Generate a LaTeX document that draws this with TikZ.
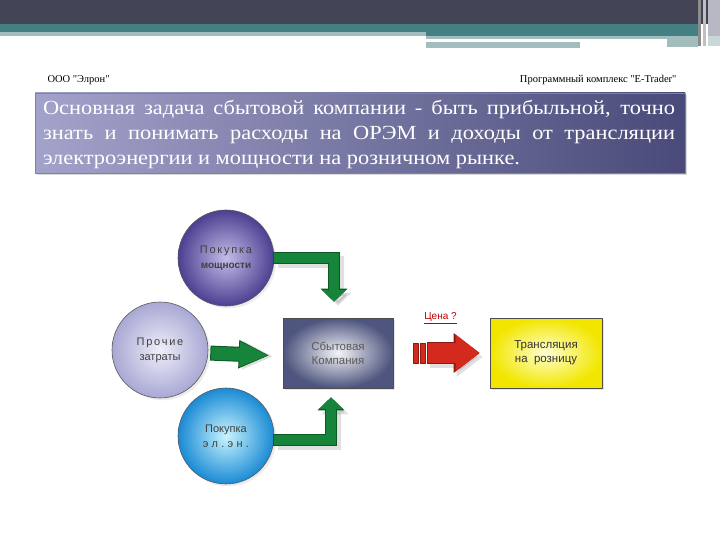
\documentclass[tikz,border=0pt]{standalone}
\usepackage{fontspec}
\setmainfont{Liberation Serif}
\newfontfamily\headfont[Ligatures=TeXOff]{Liberation Serif}
\newfontfamily\taskfont[FakeStretch=1.12]{Liberation Serif}
\newfontfamily\arialfont{Liberation Sans}
\newfontfamily\arialspaced[LetterSpace=16]{Liberation Sans}
\newfontfamily\arialwide[LetterSpace=30]{Liberation Sans}
\usetikzlibrary{arrows.meta,shadows,positioning,calc}
\definecolor{bardark}{HTML}{434356}
\definecolor{barteal}{HTML}{447F84}
\definecolor{barlight}{HTML}{A3BCBE}
\definecolor{bargray}{HTML}{B8B8C4}
\definecolor{taskleft}{HTML}{A2A2CA}
\definecolor{taskright}{HTML}{4A4A7A}
\definecolor{powin}{HTML}{C4BCE8}
\definecolor{powout}{HTML}{4D3F91}
\definecolor{othin}{HTML}{EEEEFA}
\definecolor{othout}{HTML}{A8A8D4}
\definecolor{elin}{HTML}{C8F4FF}
\definecolor{elout}{HTML}{1A8AD4}
\definecolor{boxin}{HTML}{F4F4F8}
\definecolor{boxout}{HTML}{4E557E}
\definecolor{yelin}{HTML}{FFFFD0}
\definecolor{yelout}{HTML}{F2E600}
\definecolor{grfill}{HTML}{16843A}
\definecolor{grdark}{HTML}{0B5A22}
\definecolor{redfill}{HTML}{D42A1E}
\definecolor{reddark}{HTML}{8A1A10}
\begin{document}
\begin{tikzpicture}[x=1pt,y=-1pt,line join=round,
	ball/.style={circle,minimum size=96pt,draw=black!65,line width=0.6pt,align=center,text=black!75,
		font=\arialfont\fontsize{11}{15}\selectfont,drop shadow={opacity=0.15}},
	panel/.style={rectangle,minimum width=110pt,minimum height=70pt,draw=black!70,line width=0.6pt,align=center,
		font=\arialfont\fontsize{11.5}{14}\selectfont,drop shadow={opacity=0.2}},
	gline/.style={line width=12pt,draw=grdark,line join=miter,-{Triangle[width=26pt,length=13pt]}},
	gfill/.style={line width=10pt,draw=grfill,line join=miter,-{Triangle[width=23pt,length=11.5pt]}},
	gshade/.style={line width=12pt,draw=black,opacity=0.12,line join=miter,-{Triangle[width=26pt,length=13pt]},
		transform canvas={shift={(4pt,-4pt)}}},
	rline/.style={line width=22pt,draw=reddark,-{Triangle[width=38pt,length=26pt]}},
	rfill/.style={line width=20pt,draw=redfill,-{Triangle[width=35pt,length=24pt]}}]
		\useasboundingbox (0,0) rectangle (720,540);
		\fill[bardark] (0,0) rectangle (720,24);
		\fill[barteal] (0,24) rectangle (698,32);
		\fill[barlight] (0,32) rectangle (426,36);
		\fill[barteal] (426,32) rectangle (698,36);
		\fill[barlight] (426,36) rectangle (698,39);
		\fill[barlight] (667,39) rectangle (698,47);
		\fill[barlight] (426,42) rectangle (580,48);
		\fill[black!45] (698,0) rectangle (701,46);
		\fill[black!25] (703,0) rectangle (706,46);
		\fill[bargray] (708,0) rectangle (720,36);
		\fill[barlight!60] (708,36) rectangle (720,46);
		\node[anchor=base west,font=\headfont\fontsize{10.5}{12}\selectfont] (firm) at (44,83) {ООО "Элрон"};
		\node[anchor=base east,font=\headfont\fontsize{10.5}{12}\selectfont] (soft) at (680,83) {Программный комплекс "E-Trader"};
		\node[rectangle,minimum width=650pt,minimum height=80pt,draw=taskright!70,left color=taskleft,right color=taskright,
			drop shadow={opacity=0.3}] (task) at (360,133) {};
		\node[text width=632pt,align=justify,text=white,font=\taskfont\fontsize{20}{25}\selectfont] (tasktext) at (359,134)
			{Основная задача сбытовой компании - быть прибыльной, точно\linebreak
			знать и понимать расходы на ОРЭМ и доходы от трансляции\linebreak
			электроэнергии и мощности на розничном рынке.};
		\node[panel,inner color=boxin,outer color=boxout,text=black!65] (sbyt) at (338,353) {Сбытовая\\Компания};
		\node[panel,inner color=yelin,outer color=yelout,minimum width=112pt,text=black!80] (transl) at (546,353) {Трансляция\\на\ \ розницу};
		\node[ball,inner color=powin,outer color=powout] (pow) at (226,258)
			{{\arialspaced Покупка}\\{\bfseries\fontsize{10}{12}\selectfont мощности}};
		\node[ball,inner color=othin,outer color=othout] (proch) at (160,350) {{\arialspaced Прочие}\\затраты};
		\node[ball,inner color=elin,outer color=elout] (el) at (226,436) {Покупка\\{\arialwide эл.эн.}};
		\draw[gshade] (pow.east) -| ([xshift=-4pt,yshift=16pt]sbyt.north);
		\draw[gline,shorten <=-1pt] (pow.east) -| ([xshift=-4pt,yshift=16pt]sbyt.north);
		\draw[gfill] (pow.east) -| ([xshift=-4pt,yshift=16pt]sbyt.north);
		\draw[gshade,-{Triangle[width=26pt,length=31pt]},shorten <=2pt,shorten >=13pt] (proch.east) -- (sbyt.west);
		\draw[gline,-{Triangle[width=26pt,length=31pt]},line width=15pt,shorten <=2pt,shorten >=13pt] ([yshift=-3pt]proch.east) -- ([yshift=-3pt]sbyt.west);
		\draw[gfill,-{Triangle[width=23pt,length=29pt]},line width=13pt,shorten <=3pt,shorten >=14pt] ([yshift=-3pt]proch.east) -- ([yshift=-3pt]sbyt.west);
		\draw[gshade] ([yshift=-4pt]el.east) -| ([xshift=-7pt,yshift=-9pt]sbyt.south);
		\draw[gline,shorten <=-1pt] ([yshift=-4pt]el.east) -| ([xshift=-7pt,yshift=-9pt]sbyt.south);
		\draw[gfill] ([yshift=-4pt]el.east) -| ([xshift=-7pt,yshift=-9pt]sbyt.south);
		\draw[rline,draw=black,opacity=0.12,transform canvas={shift={(3pt,-4pt)}}] ([xshift=34pt]sbyt.east) -- ([xshift=-10pt]transl.west);
		\draw[rline] ([xshift=34pt]sbyt.east) -- ([xshift=-10pt]transl.west);
		\draw[rfill] ([xshift=35pt]sbyt.east) -- ([xshift=-10pt]transl.west);
		\foreach \i in {0,7}
			\draw[fill=redfill,draw=reddark,line width=0.8pt] ($(sbyt.east)+(20+\i,-10)$) rectangle ++(5,20);
		\node[text=red!75!black,font=\arialfont\fontsize{10}{12}\selectfont] (cena) at ($(sbyt.east)!0.5!(transl.west)+(-1,-35)$)
			{\underline{Цена ?}};
\end{tikzpicture}
\end{document}
